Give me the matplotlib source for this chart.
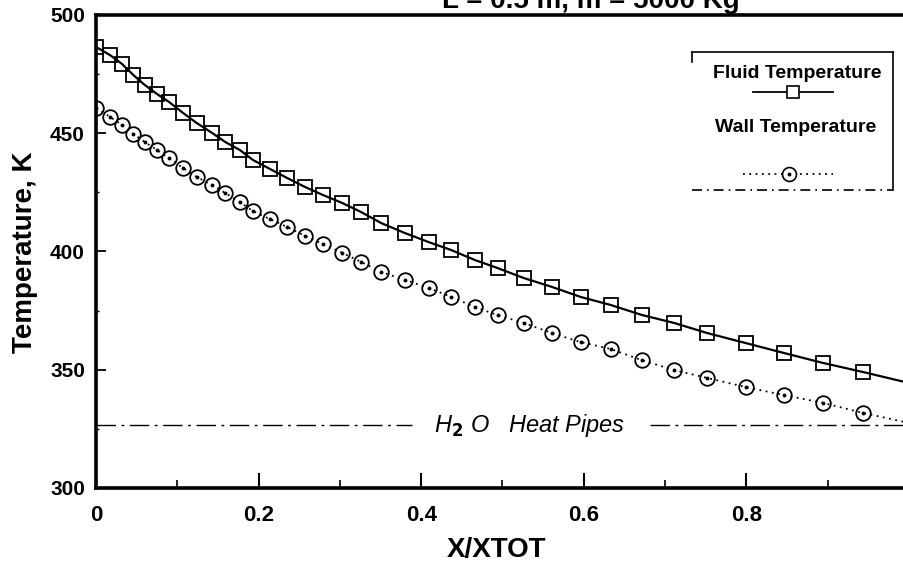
import matplotlib.pyplot as plt
from matplotlib.lines import Line2D

plt.rcParams['font.family'] = ['Liberation Sans', 'DejaVu Sans']
plt.rcParams['font.weight'] = 'bold'

# data
x_frac = [0.0, 0.017, 0.032, 0.046, 0.060, 0.075, 0.090, 0.107, 0.124, 0.143,
          0.159, 0.177, 0.193, 0.214, 0.235, 0.257, 0.279, 0.303, 0.326, 0.351,
          0.380, 0.409, 0.437, 0.466, 0.494, 0.526, 0.561, 0.596, 0.633, 0.671,
          0.711, 0.752, 0.799, 0.846, 0.894, 0.944, 1.0]
fluid_temp = [486.5, 483.1, 479.3, 474.6, 470.4, 466.6, 463.2, 458.6, 454.3, 450.1,
              446.3, 442.9, 438.7, 434.9, 431.1, 427.3, 423.9, 420.5, 416.7, 412.0,
              407.8, 404.0, 400.6, 396.4, 393.0, 388.8, 385.0, 380.8, 377.4, 373.2,
              369.8, 365.5, 361.3, 357.1, 352.9, 349.0, 344.4]
wall_temp = [460.6, 457.0, 453.5, 449.7, 446.3, 442.9, 439.5, 435.3, 431.5, 428.1,
             424.7, 420.9, 417.1, 413.7, 410.4, 406.6, 403.2, 399.4, 395.6, 391.3,
             388.0, 384.6, 380.8, 376.5, 373.1, 369.8, 365.5, 361.7, 358.8, 354.1,
             349.9, 346.5, 342.7, 339.3, 336.0, 331.7, 327.5]
heat_pipe_temp = 326.5
heat_pipe_x = [(0.0, 0.389), (0.682, 1.0)]

x_ticks = [0, 0.2, 0.4, 0.6, 0.8]
x_labels = ['0', '0.2', '0.4', '0.6', '0.8']
y_ticks = [300, 350, 400, 450, 500]

W, H = 904, 569


def px(x, y):
    # pixel position -> figure fraction
    return x / W, 1 - y / H


fig = plt.figure(figsize=(W / 100, H / 100), dpi=100)
ax = fig.add_axes([96 / W, 81 / H, 813 / W, 473 / H])

marks = list(range(len(x_frac) - 1))
ax.plot(x_frac, fluid_temp, color='black', lw=1.6, marker='s', ms=9.8,
        mfc='none', mec='black', mew=1.3, markevery=marks)
ax.plot(x_frac, wall_temp, color='black', lw=1.3, ls=(0, (1, 2.5)), marker='o',
        ms=10.5, mfc='none', mec='black', mew=1.3, markevery=marks)
ax.plot(x_frac[:-1], wall_temp[:-1], ls='none', marker='o', ms=1.8, color='black')

for x0, x1 in heat_pipe_x:
    ax.plot([x0, x1], [heat_pipe_temp, heat_pipe_temp], color='black', lw=1.0,
            ls=(0, (14, 4, 2, 4)))
ax.text(0.533, heat_pipe_temp, 'H$_2$ O   Heat Pipes', style='italic',
        fontweight='normal', ha='center', va='center', fontsize=17)

ax.set_xlim(0, 1)
ax.set_ylim(300, 500)
ax.set_xticks(x_ticks)
ax.set_xticklabels(x_labels)
ax.set_xticks([0.1, 0.3, 0.5, 0.7, 0.9], minor=True)
ax.set_yticks(y_ticks)
ax.set_yticks([325, 375, 425, 475], minor=True)
ax.tick_params(axis='x', which='major', direction='in', length=11, width=1.5,
               labelsize=16, pad=12)
ax.tick_params(axis='x', which='minor', direction='in', length=6, width=1.2)
ax.tick_params(axis='y', which='major', direction='in', length=7, width=1.3,
               labelsize=15, pad=8)
ax.tick_params(axis='y', which='minor', direction='in', length=2, width=1.0)

for side in ['left', 'bottom', 'top']:
    ax.spines[side].set_linewidth(2.6)
ax.spines['right'].set_visible(False)

ax.set_xlabel('X/XTOT', fontsize=20, fontweight='bold')
ax.xaxis.set_label_coords((497 - 96) / 813, -0.104)
fig.text(*px(25, 252), 'Temperature, K', rotation=90, ha='center', va='center',
         fontsize=20)

# title, cut off at the top of the scan
fig.text(*px(740, 8), 'L = 0.5 m, m = 5000 Kg', ha='right', va='baseline',
         fontsize=20)

# hand-drawn legend box
box = [((692, 52), (893, 52), '-'), ((893, 52), (893, 190), '-'),
       ((692, 190), (893, 190), (0, (6, 3, 1, 3))), ((692, 52), (692, 62), '-')]
for (xa, ya), (xb, yb), ls in box:
    fig.add_artist(Line2D([xa / W, xb / W], [1 - ya / H, 1 - yb / H], color='black',
                          lw=1.2, ls=ls, transform=fig.transFigure))
fig.text(*px(797, 73), 'Fluid Temperature', ha='center', va='center', fontsize=14)
fig.add_artist(Line2D([753 / W, 833 / W], [1 - 92 / H] * 2, color='black', lw=1.3,
                      transform=fig.transFigure))
fig.add_artist(Line2D([793 / W], [1 - 92 / H], marker='s', ms=9, mfc='white',
                      mec='black', mew=1.2, transform=fig.transFigure))
fig.text(*px(796, 127), 'Wall Temperature', ha='center', va='center', fontsize=14)
fig.add_artist(Line2D([743 / W, 833 / W], [1 - 174 / H] * 2, color='black', lw=1.3,
                      ls=(0, (1, 2.5)), transform=fig.transFigure))
fig.add_artist(Line2D([789 / W], [1 - 174 / H], marker='o', ms=10, mfc='white',
                      mec='black', mew=1.2, transform=fig.transFigure))
fig.add_artist(Line2D([789 / W], [1 - 174 / H], marker='o', ms=1.8, color='black',
                      transform=fig.transFigure))

fig.savefig('out.png', dpi=100)
